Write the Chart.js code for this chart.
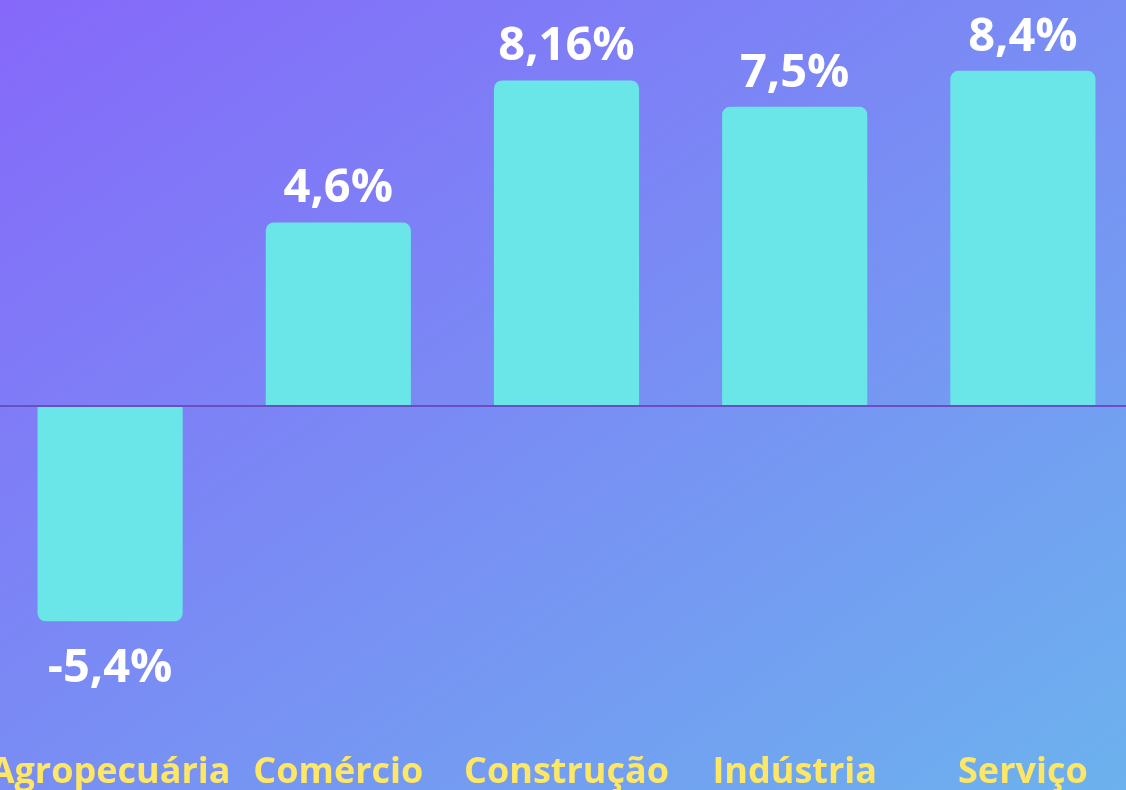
<!DOCTYPE html>
<html>
<head>
<meta charset="utf-8">
<script src="https://cdn.jsdelivr.net/npm/chart.js@4/dist/chart.umd.min.js"></script>
<style>
  html, body { margin: 0; padding: 0; }
  body {
    width: 1126px; height: 790px; overflow: hidden;
    background: linear-gradient(to bottom right, #8668fa, #6cb2ee);
  }
  #frame { position: relative; width: 1126px; height: 790px; overflow: hidden; }
  #wrap { position: absolute; left: -4px; top: 0; width: 1141px; height: 790px; }
</style>
</head>
<body>
<div id="frame"><div id="wrap"><canvas id="c"></canvas></div></div>
<script>
const categories = ['Agropecuária', 'Comércio', 'Construção', 'Indústria', 'Serviço'];
const growth = [-5.4, 4.6, 8.16, 7.5, 8.4];
const valueLabels = ['-5,4%', '4,6%', '8,16%', '7,5%', '8,4%'];

const BAR_COLOR = '#6ae6e8';
const LABEL_COLOR = '#ffe766';
const ZERO_LINE = '#6a4fc4';

const valueLabelPlugin = {
  id: 'valueLabels',
  afterDatasetsDraw(chart) {
    const ctx = chart.ctx;
    const meta = chart.getDatasetMeta(0);
    ctx.save();
    ctx.font = 'bold 47px "Open Sans"';
    ctx.fillStyle = '#ffffff';
    ctx.textAlign = 'center';
    ctx.textBaseline = 'alphabetic';
    meta.data.forEach((bar, i) => {
      const v = growth[i];
      const y = v >= 0 ? bar.y - 20 : bar.y + 61;
      ctx.fillText(valueLabels[i], bar.x, y);
    });
    ctx.restore();
  }
};

new Chart(document.getElementById('c'), {
  type: 'bar',
  data: {
    labels: categories,
    datasets: [{
      data: growth,
      backgroundColor: BAR_COLOR,
      borderRadius: 8,
      borderSkipped: 'start',
      barPercentage: 0.636,
      categoryPercentage: 1.0
    }]
  },
  options: {
    responsive: true,
    maintainAspectRatio: false,
    animation: false,
    layout: { padding: { top: 7, left: 0, right: 0, bottom: 0 } },
    plugins: {
      legend: { display: false },
      tooltip: { enabled: false }
    },
    scales: {
      x: {
        grid: { display: false, drawTicks: false },
        border: { display: false },
        ticks: {
          color: LABEL_COLOR,
          font: { family: '"Open Sans"', size: 36, weight: 'bold' },
          padding: 26,
          maxRotation: 0,
          autoSkip: false
        },
        afterFit(scale) {
          scale.height = 65;
          scale.paddingLeft = 0;
          scale.paddingRight = 0;
        }
      },
      y: {
        min: -8,
        max: 10,
        z: 1,
        ticks: { display: false, stepSize: 1 },
        border: { display: false },
        grid: {
          drawTicks: false,
          lineWidth: 2,
          color: (c) => (c.tick && c.tick.value === 0) ? ZERO_LINE : 'rgba(0,0,0,0)'
        },
        afterFit(scale) {
          scale.width = 0;
          scale.paddingTop = 0;
          scale.paddingBottom = 0;
        }
      }
    }
  },
  plugins: [valueLabelPlugin]
});
</script>
</body>
</html>
